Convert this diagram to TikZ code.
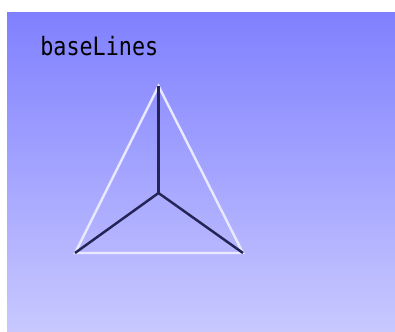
\documentclass[tikz,border=0pt]{standalone}
\usepackage{fontspec}
\newfontfamily\titlefont[FakeStretch=0.86]{DejaVu Sans Mono}
\definecolor{skytop}{RGB}{128,128,255}
\definecolor{skybot}{RGB}{200,200,255}
\definecolor{rimline}{RGB}{232,232,255}
\definecolor{spokeline}{RGB}{36,36,86}
\begin{document}
\begin{tikzpicture}[x=0.02cm,y=0.02cm,
  rim/.style={color=rimline,line width=1.4pt},
  spoke/.style={color=spokeline,line width=1.4pt}]
  \useasboundingbox (0,0) rectangle (395,331);
  \shade[top color=skytop,bottom color=skybot] (7,0) rectangle (395,318.5);
  \node[anchor=base west,inner sep=0pt,font=\titlefont\fontsize{14.4pt}{17pt}\selectfont] (title) at (40,275.5) {baseLines};
  \coordinate (A) at (158.5,245);
  \coordinate (B) at (75,78);
  \coordinate (C) at (243,78);
  \coordinate (O) at (158.5,138);
  \draw[rim] (A) -- (B) -- (C) -- cycle;
  \draw[spoke] (O) -- (B);
  \draw[spoke] (O) -- (C);
  \draw[spoke,line width=1.7pt] (O) -- (A);
\end{tikzpicture}
\end{document}
